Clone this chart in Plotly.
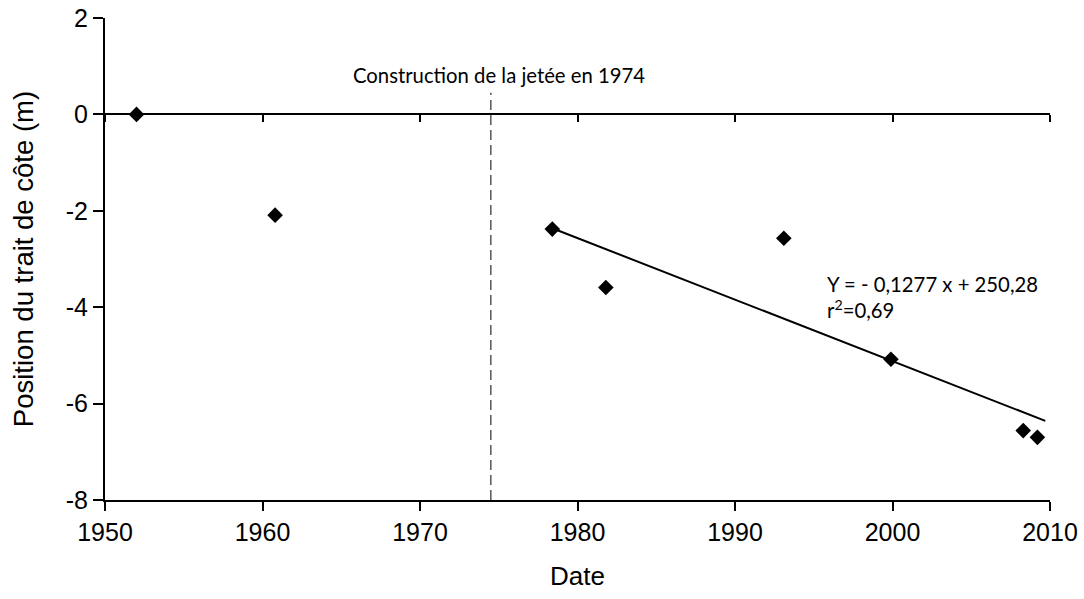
import plotly.graph_objects as go

# Shoreline position survey (m) by year
years = [1952.0, 1960.8, 1978.4, 1981.8, 1993.1, 1999.9, 2008.3, 2009.2]
position = [0.0, -2.09, -2.38, -3.59, -2.57, -5.08, -6.56, -6.70]

# Linear trend after the jetty was built
slope = -0.1277
intercept = 250.28
fit_years = [1978.4, 2009.7]
fit_values = [slope * x + intercept for x in fit_years]

jetty_year = 1974.5

x_ticks = [1950, 1960, 1970, 1980, 1990, 2000, 2010]
y_ticks = [-8, -6, -4, -2, 0, 2]
y_tick_text = ["-8", "-6", "-4", "-2", "0", "2"]

axis_family = "Liberation Sans, Arial, sans-serif"
axis_font = dict(family=axis_family, size=25, color="black")
note_font = dict(family="Lato, Open Sans, sans-serif", size=20.3, color="black")

fig = go.Figure()

fig.add_trace(go.Scatter(
    x=fit_years, y=fit_values, mode="lines",
    line=dict(color="black", width=2), showlegend=False, hoverinfo="skip",
))

fig.add_trace(go.Scatter(
    x=years, y=position, mode="markers",
    marker=dict(symbol="diamond", size=12, color="black"),
    showlegend=False,
))

# dashed marker for the jetty construction
fig.add_shape(
    type="line", x0=jetty_year, x1=jetty_year, y0=-8, y1=0.45,
    xref="x", yref="y", line=dict(color="black", width=1, dash="10px,5px"),
)

fig.add_annotation(
    x=1975.0, y=0.82, xref="x", yref="y", text="Construction de la jetée en 1974",
    showarrow=False, font=note_font, xanchor="center", yanchor="middle",
)

fig.add_annotation(
    x=1995.7, y=-3.78, xref="x", yref="y",
    text="Y = - 0,1277 x + 250,28<br>r<sup>2</sup>=0,69",
    showarrow=False, font=note_font, xanchor="left", yanchor="middle", align="left",
)

fig.update_layout(
    width=1084, height=599,
    margin=dict(l=105, r=34, t=18, b=99),
    plot_bgcolor="white", paper_bgcolor="white",
    xaxis=dict(
        range=[1950, 2010], tickvals=x_ticks, ticks="outside", ticklen=9, tickwidth=2,
        tickcolor="black", showline=True, linecolor="black", linewidth=2,
        showgrid=False, zeroline=False, tickfont=axis_font, automargin=False,
        title=dict(text="Date", font=dict(family=axis_family, size=26, color="black"), standoff=22),
    ),
    xaxis2=dict(
        range=[1950, 2010], tickvals=x_ticks, ticks="outside", ticklen=7, tickwidth=2,
        tickcolor="black", showline=True, linecolor="black", linewidth=2,
        showgrid=False, zeroline=False, showticklabels=False, automargin=False,
        overlaying="x", anchor="free", position=0.8, side="bottom",
    ),
    yaxis=dict(
        range=[-8, 2], tickvals=y_ticks, ticktext=y_tick_text, ticks="outside", ticklen=10,
        tickwidth=2, tickcolor="black", showline=True, linecolor="black", linewidth=2,
        showgrid=False, zeroline=False, tickfont=axis_font, automargin=False,
        title=dict(text="Position du trait de côte (m)", font=dict(family=axis_family, size=27.5, color="black"), standoff=24),
    ),
)

# empty trace so the zero-level axis is drawn
fig.add_trace(go.Scatter(x=[], y=[], xaxis="x2", showlegend=False))

fig.write_html("out.html")
